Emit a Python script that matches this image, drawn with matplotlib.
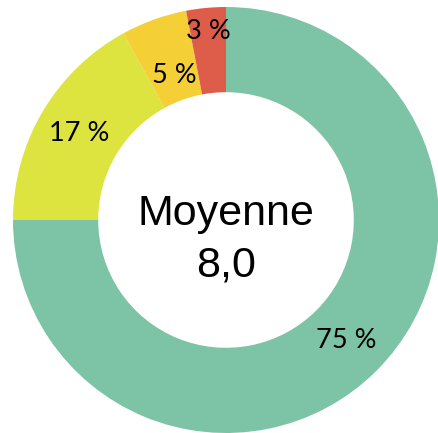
import matplotlib
matplotlib.use("Agg")
import matplotlib.pyplot as plt
import numpy as np

categories = ["Satisfait", "Plutôt satisfait", "Plutôt insatisfait", "Insatisfait"]
values = [75, 17, 5, 3]
labels = ["75 %", "17 %", "5 %", "3 %"]
colors = ["#7DC3A5", "#DDE33F", "#F5CF36", "#DD5C4A"]
center_title = "Moyenne"
center_value = "8,0"

label_radii = [0.80, 0.80, 0.72, 0.89]

fig = plt.figure(figsize=(4.39, 4.33), dpi=100)
ax = fig.add_axes([0, 0, 1, 1])
R = 213.0

wedges, _ = ax.pie(values, colors=colors, startangle=90, counterclock=False,
                   radius=1.0, wedgeprops=dict(width=0.4, linewidth=0))
ax.set_xlim(-226 / R, (439 - 226) / R)
ax.set_ylim(-(433 - 220) / R, 220 / R)
ax.set_aspect("equal")
ax.axis("off")

total = sum(values)
cum = 0
for v, lab, r in zip(values, labels, label_radii):
    mid = cum + v / 2
    ang = np.deg2rad(90 - 360 * mid / total)
    ax.text(r * np.cos(ang), r * np.sin(ang), lab, ha="center", va="center",
            fontsize=19.5, family=["Lato", "DejaVu Sans"], color="black")
    cum += v

ax.text(0, 0.03, center_title, ha="center", va="center", fontsize=31,
        family=["Liberation Sans", "DejaVu Sans"])
ax.text(0, -0.215, center_value, ha="center", va="center", fontsize=31,
        family=["Liberation Sans", "DejaVu Sans"])

fig.savefig("out.png", dpi=100)
